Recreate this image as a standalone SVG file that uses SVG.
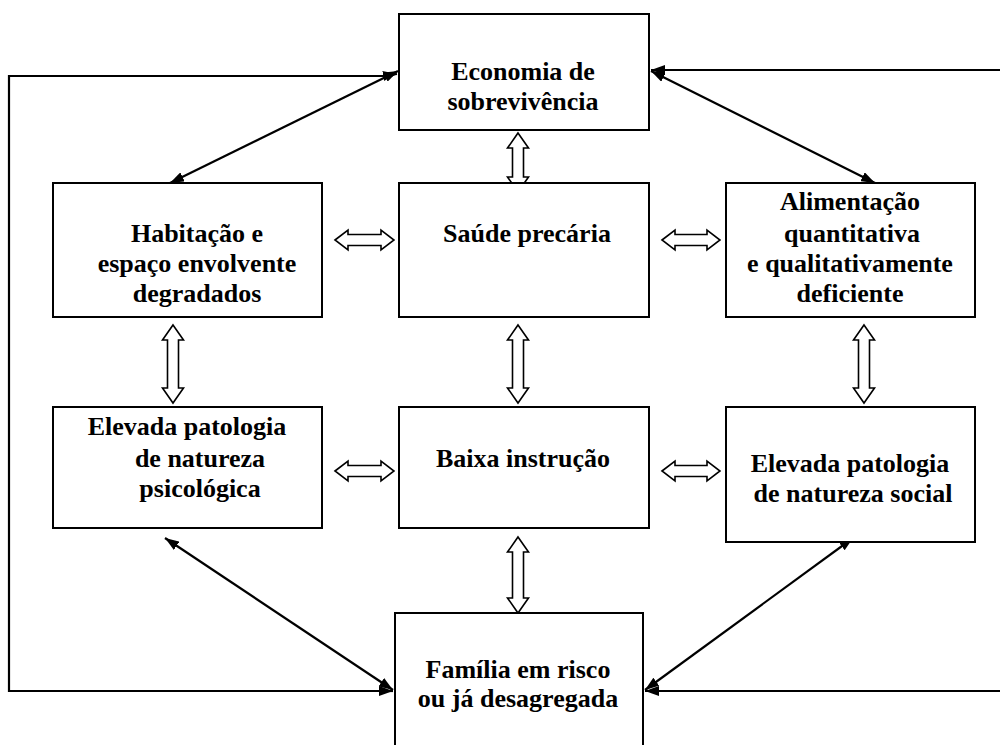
<svg xmlns="http://www.w3.org/2000/svg" width="1000" height="745" viewBox="0 0 1000 745">
<defs>
<marker id="ah" viewBox="0 0 14 10" refX="14" refY="5" markerWidth="14" markerHeight="10" markerUnits="userSpaceOnUse" orient="auto-start-reverse">
<path d="M0,0 L14,5 L0,10 Z" fill="#000"/>
</marker>
</defs>
<style>
.box{fill:#fff;stroke:#000;stroke-width:2}
.ln{fill:none;stroke:#000;stroke-width:2.2}
.da{fill:#fff;stroke:#000;stroke-width:1.6;stroke-linejoin:miter}
</style>
<rect width="1000" height="745" fill="#fff"/>

<g id="connectors">
<polyline class="ln" points="383,76 9,76 9,691 380,691"/>
<line class="ln" x1="380" y1="691" x2="393" y2="691" marker-end="url(#ah)"/>
<line class="ln" x1="383" y1="76" x2="397" y2="74" marker-end="url(#ah)"/>
<line class="ln" x1="170" y1="183" x2="398" y2="71" marker-start="url(#ah)" marker-end="url(#ah)"/>
<line class="ln" x1="1000" y1="70" x2="651" y2="70" marker-end="url(#ah)"/>
<line class="ln" x1="651" y1="71" x2="875" y2="183" marker-start="url(#ah)" marker-end="url(#ah)"/>
<line class="ln" x1="1000" y1="691" x2="645" y2="691" marker-end="url(#ah)"/>
<line class="ln" x1="853" y1="538" x2="645" y2="690" marker-start="url(#ah)" marker-end="url(#ah)"/>
<line class="ln" x1="165" y1="538" x2="393" y2="690" marker-start="url(#ah)" marker-end="url(#ah)"/>

<polygon class="da" points="518,133 528.5,148 523.5,148 523.5,177 528.5,177 518,192 507.5,177 512.5,177 512.5,148 507.5,148"/>
<polygon class="da" points="173,325 183.5,340 178.5,340 178.5,388 183.5,388 173,403 162.5,388 167.5,388 167.5,340 162.5,340"/>
<polygon class="da" points="518,325 528.5,340 523.5,340 523.5,388 528.5,388 518,403 507.5,388 512.5,388 512.5,340 507.5,340"/>
<polygon class="da" points="864,325 874.5,340 869.5,340 869.5,388 874.5,388 864,403 853.5,388 858.5,388 858.5,340 853.5,340"/>
<polygon class="da" points="518,537 528.5,552 523.5,552 523.5,598 528.5,598 518,613 507.5,598 512.5,598 512.5,552 507.5,552"/>

<polygon class="da" points="335,240 348,230 348,234.5 381,234.5 381,230 394,240 381,250 381,245.5 348,245.5 348,250"/>
<polygon class="da" points="662,240 675,230 675,234.5 707,234.5 707,230 720,240 707,250 707,245.5 675,245.5 675,250"/>
<polygon class="da" points="335,471 348,461 348,465.5 381,465.5 381,461 394,471 381,481 381,476.5 348,476.5 348,481"/>
<polygon class="da" points="662,471 675,461 675,465.5 707,465.5 707,461 720,471 707,481 707,476.5 675,476.5 675,481"/>
</g>

<g id="nodes" font-family="Liberation Serif" font-weight="bold" font-size="26" text-anchor="middle" fill="#000">
<g id="economia">
<rect class="box" x="399" y="14" width="250" height="116"/>
<text x="523" y="80">Economia de</text>
<text x="523" y="110">sobrevivência</text>
</g>

<g id="habitacao">
<rect class="box" x="53" y="183" width="269" height="134"/>
<text x="197" y="242">Habitação e</text>
<text x="197" y="272">espaço envolvente</text>
<text x="197" y="302">degradados</text>
</g>

<g id="saude">
<rect class="box" x="399" y="183" width="250" height="134"/>
<text x="527" y="242">Saúde precária</text>
</g>

<g id="alimentacao">
<rect class="box" x="726" y="183" width="249" height="134"/>
<text x="850" y="210">Alimentação</text>
<text x="852" y="242">quantitativa</text>
<text x="850" y="272">e qualitativamente</text>
<text x="850" y="302">deficiente</text>
</g>

<g id="patologia-psicologica">
<rect class="box" x="53" y="407" width="269" height="121"/>
<text x="187" y="435">Elevada patologia</text>
<text x="200" y="467">de natureza</text>
<text x="200" y="497">psicológica</text>
</g>

<g id="baixa-instrucao">
<rect class="box" x="399" y="407" width="250" height="121"/>
<text x="523" y="467">Baixa instrução</text>
</g>

<g id="patologia-social">
<rect class="box" x="726" y="407" width="249" height="135"/>
<text x="850" y="472">Elevada patologia</text>
<text x="853" y="502">de natureza social</text>
</g>

<g id="familia">
<rect class="box" x="395" y="613" width="248" height="150"/>
<text x="518" y="678">Família em risco</text>
<text x="518" y="707">ou já desagregada</text>
</g>
</g>
</svg>
